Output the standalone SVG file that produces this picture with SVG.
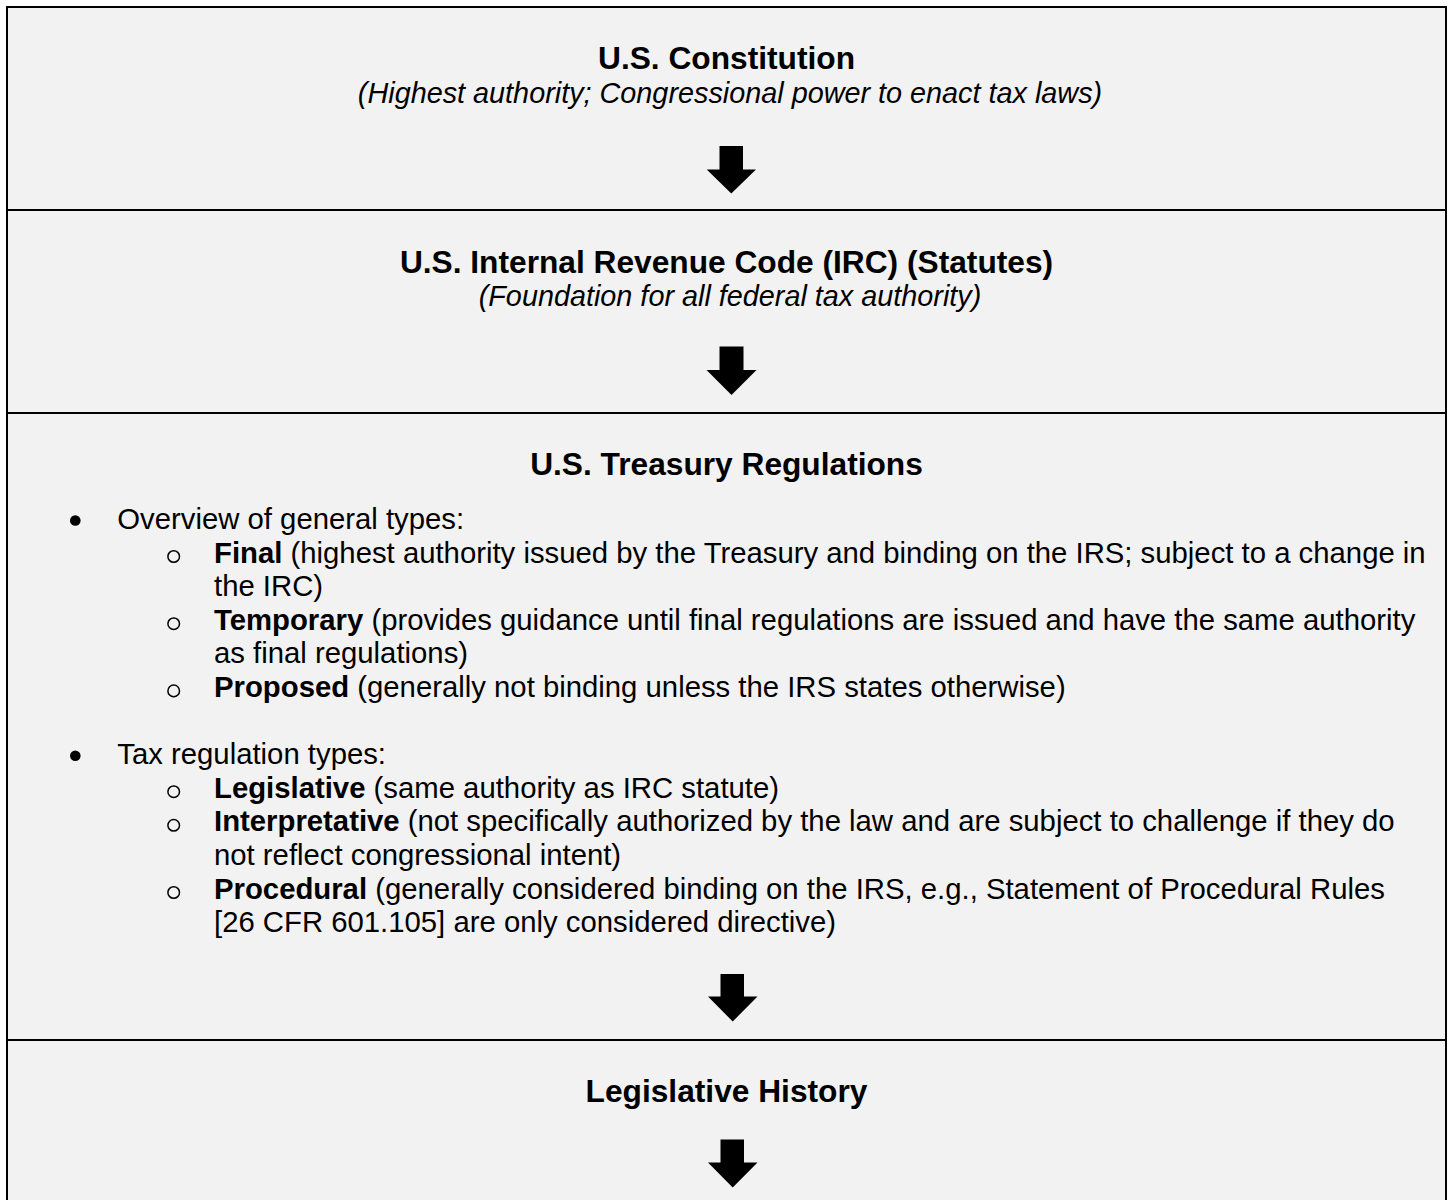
<svg xmlns="http://www.w3.org/2000/svg" width="1449" height="1200" viewBox="0 0 1449 1200">
<style>
.box{fill:#f2f2f2;stroke:#000;stroke-width:2}
.t{font-family:"Liberation Sans",Arial,sans-serif;fill:#000}
.h{font-size:31.7px;font-weight:bold;text-anchor:middle}
.s{font-size:28.8px;font-style:italic;text-anchor:middle}
.b{font-size:29.3px}
.bold{font-weight:bold}
.arrow{fill:#000;stroke:none}
.dot{fill:#000}
.ring{fill:none;stroke:#000;stroke-width:1.5}
</style>
<rect x="0" y="0" width="1449" height="1200" fill="#ffffff"/>
<g id="node-constitution">
<rect class="box" x="7" y="7" width="1439" height="203"/>
<text class="t h" x="726.5" y="69">U.S. Constitution</text>
<text class="t s" x="730" y="103">(Highest authority; Congressional power to enact tax laws)</text>
</g>
<g id="node-irc">
<rect class="box" x="7" y="210" width="1439" height="203"/>
<text class="t h" x="726.5" y="273">U.S. Internal Revenue Code (IRC) (Statutes)</text>
<text class="t s" x="730" y="306">(Foundation for all federal tax authority)</text>
</g>
<g id="node-treasury">
<rect class="box" x="7" y="413" width="1439" height="627"/>
<text class="t h" x="726.5" y="475">U.S. Treasury Regulations</text>
<circle class="dot" cx="75.3" cy="520.5" r="5.3"/>
<text class="t b" x="117.3" y="529">Overview of general types:</text>
<circle class="ring" cx="173.7" cy="556.5" r="5.8"/>
<text class="t b" x="214" y="562.6"><tspan class="bold">Final</tspan> (highest authority issued by the Treasury and binding on the IRS; subject to a change in</text>
<text class="t b" x="214" y="596.2">the IRC)</text>
<circle class="ring" cx="173.7" cy="623.7" r="5.8"/>
<text class="t b" x="214" y="629.8"><tspan class="bold">Temporary</tspan> (provides guidance until final regulations are issued and have the same authority</text>
<text class="t b" x="214" y="663.4">as final regulations)</text>
<circle class="ring" cx="173.7" cy="690.9" r="5.8"/>
<text class="t b" x="214" y="697"><tspan class="bold">Proposed</tspan> (generally not binding unless the IRS states otherwise)</text>
<circle class="dot" cx="75.3" cy="755.7" r="5.3"/>
<text class="t b" x="117.3" y="764.2">Tax regulation types:</text>
<circle class="ring" cx="173.7" cy="791.7" r="5.8"/>
<text class="t b" x="214" y="797.8"><tspan class="bold">Legislative</tspan> (same authority as IRC statute)</text>
<circle class="ring" cx="173.7" cy="825.3" r="5.8"/>
<text class="t b" x="214" y="831.4"><tspan class="bold">Interpretative</tspan> (not specifically authorized by the law and are subject to challenge if they do</text>
<text class="t b" x="214" y="865">not reflect congressional intent)</text>
<circle class="ring" cx="173.7" cy="892.5" r="5.8"/>
<text class="t b" x="214" y="898.6"><tspan class="bold">Procedural</tspan> (generally considered binding on the IRS, e.g., Statement of Procedural Rules</text>
<text class="t b" x="214" y="932.2">[26 CFR 601.105] are only considered directive)</text>
</g>
<g id="node-legislative-history">
<rect class="box" x="7" y="1040" width="1439" height="175"/>
<text class="t h" x="726.5" y="1102">Legislative History</text>
</g>
<g id="connectors">
<path class="arrow" d="M719.5,146 H743 V169.5 H756 L731.3,193.5 L706.7,169.5 H719.5 Z"/>
<path class="arrow" d="M719.5,346.5 H743.5 V370 H756.5 L731.5,395 L706.5,370 H719.5 Z"/>
<path class="arrow" d="M720.5,974 H744 V996.5 H757.5 L732.7,1021.5 L708,996.5 H720.5 Z"/>
<path class="arrow" d="M720.5,1139.5 H744 V1162.5 H757.5 L732.7,1187.5 L708,1162.5 H720.5 Z"/>
</g>
</svg>
